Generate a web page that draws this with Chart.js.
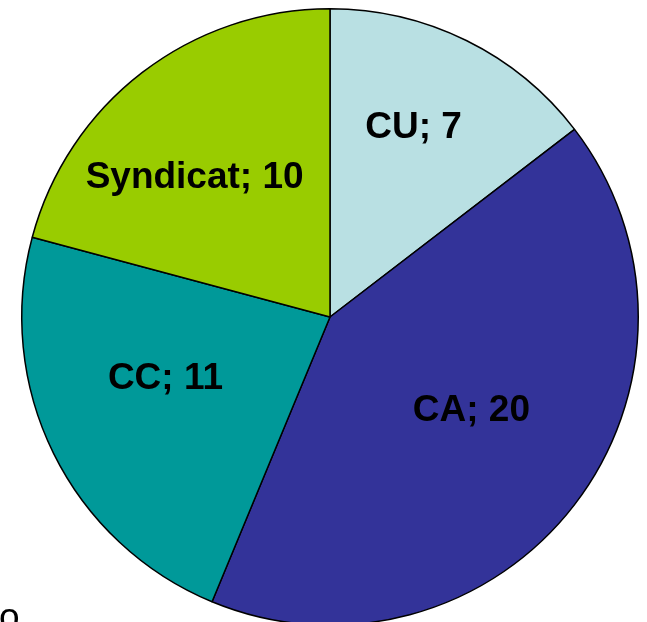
<!DOCTYPE html>
<html>
<head>
<meta charset="utf-8">
<script src="https://cdn.jsdelivr.net/npm/chart.js@4/dist/chart.umd.min.js"></script>
<style>
  html, body { margin: 0; padding: 0; background: #fff; overflow: hidden; }
  #wrap { position: absolute; left: 0; top: 0; width: 647px; height: 634px; }
  #stray { position: absolute; left: -1px; top: 598px; font: 37px "Liberation Sans", Arial, sans-serif; line-height: 37px; color: #000; }
</style>
</head>
<body>
<div id="wrap"><canvas id="pieChart"></canvas></div>
<div id="stray">o</div>
<script>
// data
const categories = ['CU', 'CA', 'CC', 'Syndicat'];
const counts = [7, 20, 11, 10];
const colors = ['#B9E0E3', '#333399', '#009999', '#99CC00'];

// label placement: share of radius and angle shift (degrees)
const labelRadius = [0.67, 0.55, 0.57, 0.63];
const labelShift = [-2.4, -4, 5.7, -6.7];

const sliceLabels = {
  id: 'sliceLabels',
  afterDatasetsDraw(chart) {
    const ctx = chart.ctx;
    const arcs = chart.getDatasetMeta(0).data;
    ctx.save();
    ctx.font = 'bold 37px "Liberation Sans", Arial, sans-serif';
    ctx.fillStyle = '#000';
    ctx.textAlign = 'center';
    ctx.textBaseline = 'middle';
    arcs.forEach((arc, i) => {
      const p = arc.getProps(['x', 'y', 'startAngle', 'endAngle', 'outerRadius'], true);
      const a = (p.startAngle + p.endAngle) / 2 + labelShift[i] * Math.PI / 180;
      const r = p.outerRadius * labelRadius[i];
      ctx.fillText(categories[i] + '; ' + counts[i], p.x + r * Math.cos(a), p.y + r * Math.sin(a));
    });
    ctx.restore();
  }
};

new Chart('pieChart', {
  type: 'pie',
  data: {
    labels: categories,
    datasets: [{
      data: counts,
      backgroundColor: colors,
      borderColor: '#000',
      borderWidth: 1.5
    }]
  },
  options: {
    responsive: true,
    maintainAspectRatio: false,
    animation: false,
    layout: {
      padding: { left: 21, right: 8, top: 8, bottom: 8 }
    },
    plugins: {
      legend: { display: false },
      tooltip: { enabled: false }
    }
  },
  plugins: [sliceLabels]
});
</script>
</body>
</html>
